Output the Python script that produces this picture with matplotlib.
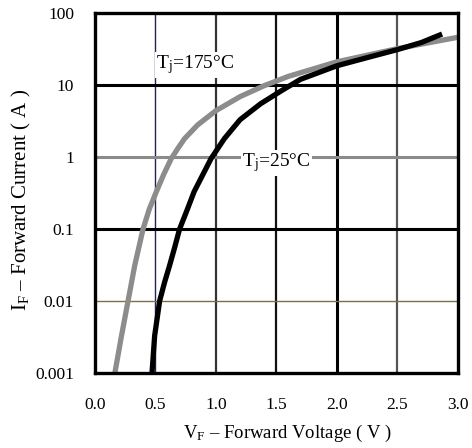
import matplotlib
matplotlib.use("Agg")
import matplotlib.pyplot as plt

plt.rcParams['font.family'] = ['Liberation Serif', 'DejaVu Serif']
plt.rcParams['mathtext.fontset'] = 'custom'
plt.rcParams['mathtext.rm'] = 'Liberation Serif'
plt.rcParams['mathtext.it'] = 'Liberation Serif:italic'

# Forward characteristics
v_25 = [0.472, 0.494, 0.535, 0.575, 0.617, 0.66, 0.70, 0.76, 0.82, 0.89, 0.96, 1.07, 1.20,
        1.37, 1.54, 1.70, 2.00, 2.25, 2.50, 2.70, 2.87]
i_25 = [0.001, 0.0033, 0.01, 0.018, 0.031, 0.056, 0.1, 0.18, 0.33, 0.56, 0.95, 1.8, 3.3,
        5.5, 8.3, 12.0, 18.5, 24.0, 31.0, 39.0, 51.0]

v_175 = [0.165, 0.22, 0.274, 0.329, 0.398, 0.45, 0.508, 0.57, 0.631, 0.69, 0.741, 0.85, 1.00,
         1.20, 1.40, 1.60, 2.00, 2.50, 3.00]
i_175 = [0.001, 0.0033, 0.01, 0.031, 0.1, 0.19, 0.33, 0.58, 0.95, 1.35, 1.8, 2.8, 4.4,
         6.9, 9.8, 13.2, 21.0, 32.0, 46.0]

x_ticks = [0.0, 0.5, 1.0, 1.5, 2.0, 2.5, 3.0]
x_labels = ['0.0', '0.5', '1.0', '1.5', '2.0', '2.5', '3.0']
y_ticks = [0.001, 0.01, 0.1, 1, 10, 100]
y_labels = ['0.001', '0.01', '0.1', '1', '10', '100']

fig = plt.figure(figsize=(4.72, 4.48), dpi=100)
ax = fig.add_axes([0.201, 0.167, 0.769, 0.804])
ax.set_yscale('log')
ax.set_xlim(0, 3.0)
ax.set_ylim(0.001, 100)

# grid lines, each drawn a bit differently like the scanned original
vgrid = [(0.5, '#23235a', 1.0), (1.0, '#333333', 1.6), (1.5, '#111111', 1.6),
         (2.0, '#000000', 2.2), (2.5, '#555555', 1.6)]
for xv, c, lw in vgrid:
    ax.axvline(xv, color=c, lw=lw, zorder=1)
hgrid = [(0.01, '#77704a', 1.0), (0.1, '#000000', 2.2), (1, '#8a8a8a', 2.2), (10, '#000000', 2.2)]
for yv, c, lw in hgrid:
    ax.axhline(yv, color=c, lw=lw, zorder=1)

ax.plot(v_175, i_175, color='#8c8c8c', lw=3.8, solid_capstyle='butt', solid_joinstyle='round', zorder=3)
ax.plot(v_25, i_25, color='black', lw=3.8, solid_capstyle='butt', solid_joinstyle='round', zorder=4)

ax.text(0.83, 19, r'T$_\mathrm{j}$=175°C', fontsize=14, ha='center', va='center',
        bbox=dict(facecolor='white', edgecolor='none', pad=1), zorder=2)
ax.text(1.5, 0.83, r'T$_\mathrm{j}$=25°C', fontsize=14, ha='center', va='center',
        bbox=dict(facecolor='white', edgecolor='none', pad=1), zorder=2)

ax.set_xticks(x_ticks)
ax.set_xticklabels(x_labels)
ax.set_yticks(y_ticks)
ax.set_yticklabels(y_labels)
ax.minorticks_off()
ax.tick_params(length=0, labelsize=12.5)
ax.tick_params(axis='x', pad=17)
ax.tick_params(axis='y', pad=15)

for s in ax.spines.values():
    s.set_linewidth(2.4)
    s.set_color('black')
    s.set_zorder(5)

ax.text(0.53, -0.167, r'V$_\mathrm{F}$ – Forward Voltage ( V )', fontsize=13.5,
        ha='center', va='center', transform=ax.transAxes)
ax.text(-0.201, 0.48, r'I$_\mathrm{F}$ – Forward Current ( A )', fontsize=15,
        ha='center', va='center', rotation=90, transform=ax.transAxes)

fig.savefig('out.png', dpi=100)
